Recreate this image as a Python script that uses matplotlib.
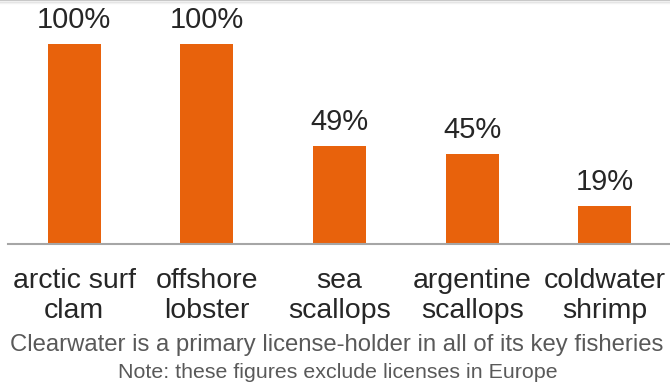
import matplotlib
matplotlib.use("Agg")
import matplotlib.pyplot as plt
from matplotlib.lines import Line2D

plt.rcParams['font.family'] = ['Liberation Sans', 'DejaVu Sans']

categories = ["arctic surf\nclam", "offshore\nlobster", "sea\nscallops",
              "argentine\nscallops", "coldwater\nshrimp"]
shares = [100, 100, 49, 45, 19]
caption = "Clearwater is a primary license-holder in all of its key fisheries"
note = "Note: these figures exclude licenses in Europe"

W, H = 670, 383
fig = plt.figure(figsize=(W / 100, H / 100), dpi=100)
ax = fig.add_axes([8 / W, 139 / H, 663 / W, 244 / H])

x = list(range(len(categories)))
bars = ax.bar(x, shares, width=0.4, color='#E8620C')
ax.set_xlim(-0.5, 4.5)
ax.set_ylim(0, 122)

# value labels above the bars
for b, v in zip(bars, shares):
    ax.annotate(f"{v}%", (b.get_x() + b.get_width() / 2, v),
                xytext=(0, 15.5), textcoords='offset pixels',
                ha='center', va='baseline', fontsize=21, color='#262626')

# category names under the axis, one text per line
for xi, name in zip(x, categories):
    for k, line in enumerate(name.split("\n")):
        ax.annotate(line, (xi, 0), xytext=(0, -44 - 30 * k),
                    textcoords='offset pixels', ha='center', va='baseline',
                    fontsize=20.5, color='#262626', annotation_clip=False)

for s in ['top', 'right', 'left']:
    ax.spines[s].set_visible(False)
ax.spines['bottom'].set_color('#A6A6A6')
ax.spines['bottom'].set_linewidth(1.5)
ax.set_yticks([])
ax.set_xticks([])

fig.text(0.502, 1 - 351.5 / H, caption, ha='center', va='baseline',
         fontsize=17.2, color='#595959')
fig.text(0.504, 1 - 378 / H, note, ha='center', va='baseline',
         fontsize=15.4, color='#595959')

# faint shadow along the top edge
for y, c in [(0.999, '#c8c8c8'), (0.995, '#e2e2e2'), (0.991, '#f2f2f2')]:
    fig.add_artist(Line2D([0, 1], [y, y], transform=fig.transFigure,
                          color=c, lw=1))

fig.savefig("out.png", dpi=100)
